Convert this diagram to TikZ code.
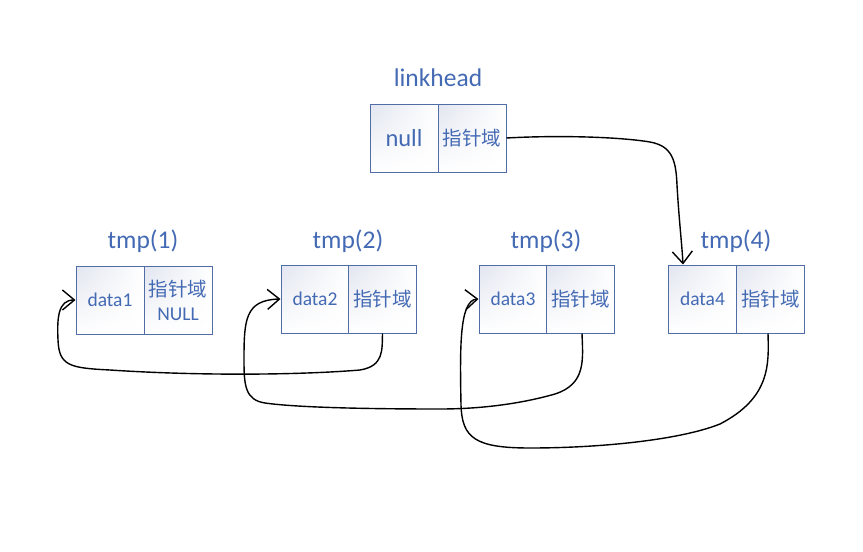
\documentclass[tikz,border=0pt]{standalone}
\usepackage{fontspec}
\setmainfont{Carlito}
\newfontfamily\cjk{Noto Sans CJK SC}
\usetikzlibrary{arrows.meta,shadings}
\definecolor{txtblue}{RGB}{68,106,180}
\definecolor{bordcol}{RGB}{80,110,165}
\definecolor{shadecol}{RGB}{226,229,240}
\tikzset{
  cell/.style={draw=bordcol, line width=1pt, shade, upper left=shadecol, upper right=white, lower left=white, lower right=white,
    minimum width=68pt, minimum height=68pt, inner sep=0pt, text=txtblue, font=\fontsize{19.5}{23}\selectfont, align=center},
  bigtxt/.style={text=txtblue, font=\fontsize{25.5}{30}\selectfont},
  link/.style={draw=black, line width=1.4pt, -{Straight Barb[length=12pt,width=20pt,line width=1.4pt]}}
}
\begin{document}
\begin{tikzpicture}[x=1pt,y=-1pt]
\useasboundingbox (0,0) rectangle (863,552);
% linkhead
\node[bigtxt] (lh) at (438,78) {linkhead};
\node[cell, font=\fontsize{24.5}{28}\selectfont] (h1) at (404,138) {null};
\node[cell] (h2) at (472,138) {\cjk 指针域};
% tmp(1)
\node[bigtxt] (l1) at (143,241) {tmp(1)};
\node[cell] (a1) at (110,300) {data1};
\node[cell] (a2) at (178,300) {\cjk 指针域\\[1pt]NULL};
% tmp(2)
\node[bigtxt] (l2) at (348,241) {tmp(2)};
\node[cell] (b1) at (315,299) {data2};
\node[cell] (b2) at (382.5,299) {\cjk 指针域};
% tmp(3)
\node[bigtxt] (l3) at (546,241) {tmp(3)};
\node[cell] (c1) at (513,299) {data3};
\node[cell] (c2) at (580.5,299) {\cjk 指针域};
% tmp(4)
\node[bigtxt] (l4) at (736,241) {tmp(4)};
\node[cell] (d1) at (702.5,299) {data4};
\node[cell] (d2) at (770.5,299) {\cjk 指针域};
% connectors
\draw[link] (h2.east) .. controls (560,135) and (620,137) .. (650,142)
  .. controls (672,146) and (676,160) .. (677,185)
  .. controls (679,220) and (682,245) .. ([xshift=15pt]d1.north west);
\draw[link] (b2.south) .. controls (382,350) and (384,366) .. (360,370)
  .. controls (300,375) and (200,376) .. (110,370)
  .. controls (70,368) and (59,366) .. (58,340)
  .. controls (57,318) and (58,300) .. (a1.west);
\draw[link] ([xshift=1.5pt]c2.south) .. controls (583,360) and (586,384) .. (555,394)
  .. controls (520,404) and (480,409) .. (440,409)
  .. controls (380,409) and (300,408) .. (265,403)
  .. controls (245,400) and (244,385) .. (244,360)
  .. controls (244,320) and (245,300) .. (b1.west);
\draw[link] ([xshift=-2.5pt]d2.south) .. controls (769,365) and (770,398) .. (720,424)
  .. controls (680,440) and (600,448) .. (530,448)
  .. controls (475,448) and (462,438) .. (461,405)
  .. controls (460,350) and (459,300) .. (c1.west);
\end{tikzpicture}
\end{document}
